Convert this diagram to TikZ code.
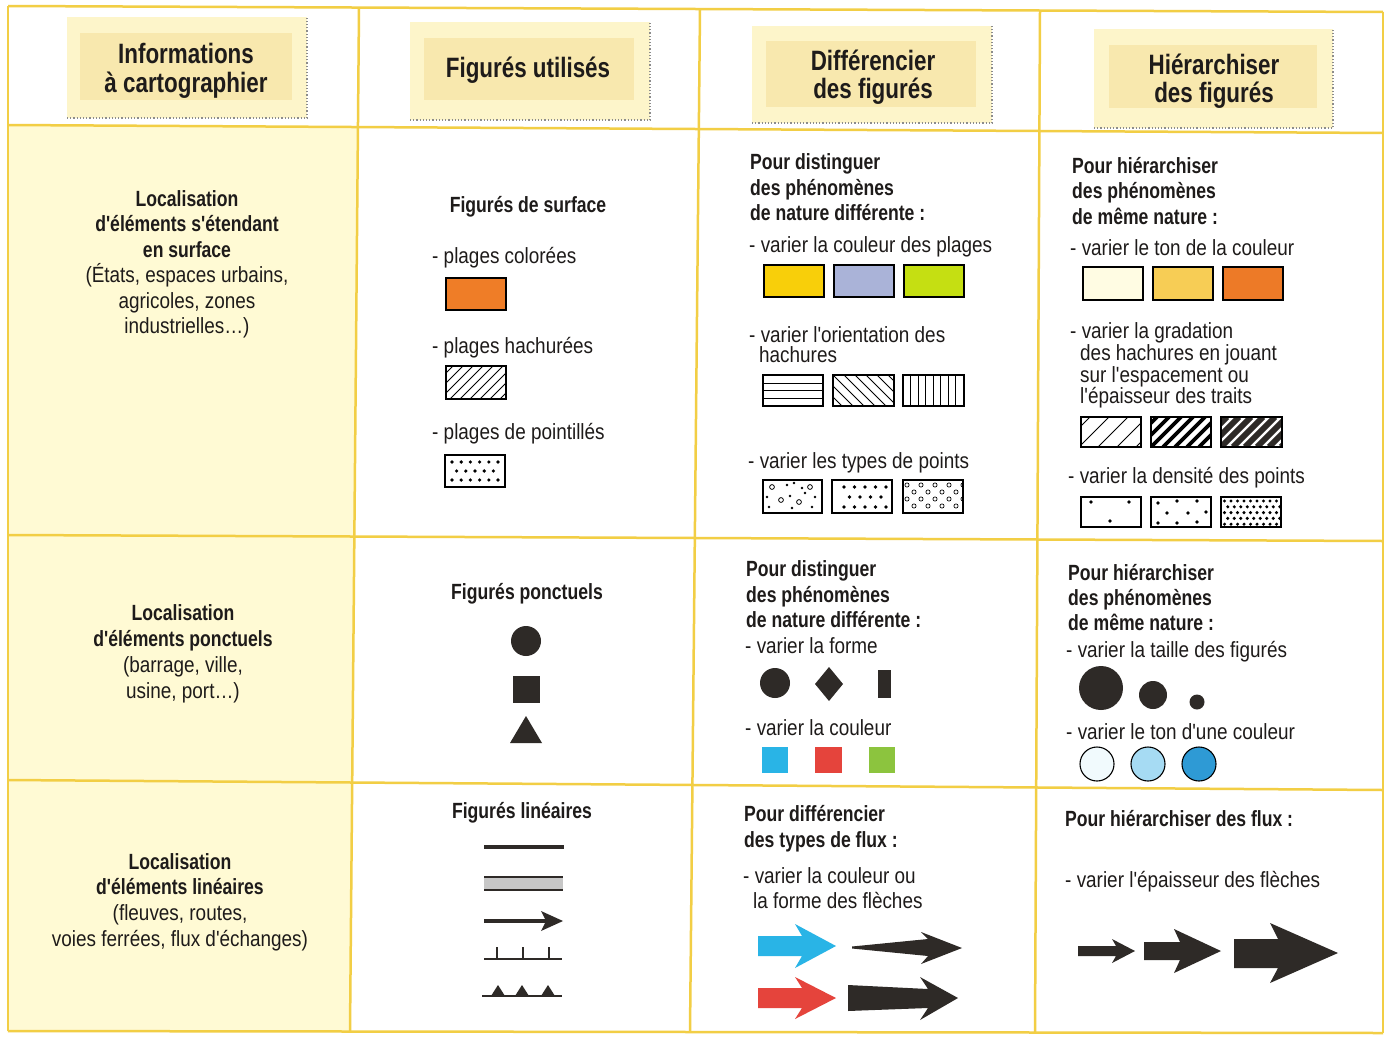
\documentclass[tikz,border=0pt]{standalone}
\usepackage{fontspec}
\setmainfont{Liberation Sans}[FakeStretch=0.86, Ligatures=TeXOff]
\newfontfamily\condb{Liberation Sans}[FakeStretch=0.8, Ligatures=TeXOff]
\definecolor{gridy}{HTML}{F2CE45}
\definecolor{colone}{HTML}{FFFAD4}
\definecolor{hdrout}{HTML}{FDF5CA}
\definecolor{hdrin}{HTML}{F8E8AE}
\definecolor{ink}{HTML}{1E1B1A}
\definecolor{dk}{HTML}{2E2A27}
\definecolor{orng}{HTML}{EF7D27}
\definecolor{yel}{HTML}{F8CF0A}
\definecolor{bgrey}{HTML}{AAB3D8}
\definecolor{lgreen}{HTML}{C5DF12}
\definecolor{pale}{HTML}{FFFCE3}
\definecolor{myel}{HTML}{F7CD55}
\definecolor{orng2}{HTML}{ED7A27}
\definecolor{cyn}{HTML}{29B4E6}
\definecolor{rd}{HTML}{E5443C}
\definecolor{grn}{HTML}{8CC43E}
\definecolor{cia}{HTML}{F1FAFD}
\definecolor{cib}{HTML}{A6DBF3}
\definecolor{cic}{HTML}{2E9AD5}
\tikzset{
  reg/.style={font=\fontsize{22}{26}\selectfont, text=ink, inner sep=0pt, anchor=base west},
  regc/.style={reg, anchor=base},
  bld/.style={font=\condb\bfseries\fontsize{22}{26}\selectfont, text=ink, inner sep=0pt, anchor=base west},
  bldc/.style={bld, anchor=base},
  hdr/.style={font=\condb\bfseries\fontsize{28}{30}\selectfont, text=ink, inner sep=0pt, anchor=base},
  gridline/.style={draw=gridy, line width=2.5pt},
  frame/.style={draw=black, line width=1.1pt},
  hshadow/.style={draw=black!45, dotted, line width=1.2pt},
}
\begin{document}
\begin{tikzpicture}[x=1pt,y=-1pt]
\useasboundingbox (0,0) rectangle (1386,1036);
\fill[white] (0,0) rectangle (1386,1036);
\fill[colone] (8,125) -- (358,127) -- (350,1031) -- (8,1031) -- cycle;

% header boxes
\fill[hdrout] (67,17) rectangle (307,118);
\fill[hdrin] (80,33) rectangle (292,100);
\draw[hshadow] (67,118) -- (307,118) -- (307,17);
\fill[hdrout] (410,22) rectangle (650,120);
\fill[hdrin] (424,38) rectangle (634,100);
\draw[hshadow] (410,120) -- (650,120) -- (650,22);
\fill[hdrout] (752,26) rectangle (992,123);
\fill[hdrin] (766,41) rectangle (976,107);
\draw[hshadow] (752,123) -- (992,123) -- (992,26);
\fill[hdrout] (1094,29) rectangle (1333,128);
\fill[hdrin] (1109,45) rectangle (1317,108);
\draw[hshadow] (1094,128) -- (1333,128) -- (1333,29);

% grid
\draw[gridline] (8,6) -- (1383,12);
\draw[gridline] (8,125) -- (1383,133);
\draw[gridline] (8,535) -- (1383,541);
\draw[gridline] (8,780) -- (1383,790);
\draw[gridline] (8,1031) -- (1383,1033);
\draw[gridline] (8,6) -- (8,1031);
\draw[gridline] (359,8) -- (350,1031);
\draw[gridline] (700,9) -- (690,1032);
\draw[gridline] (1040,10) -- (1035,1032);
\draw[gridline] (1383,12) -- (1383,1033);

% header texts
\node[hdr] (h1a) at (186,63) {Informations};
\node[hdr] (h1b) at (186,92) {à cartographier};
\node[hdr] (h2a) at (528,77) {Figurés utilisés};
\node[hdr] (h3a) at (873,70) {Différencier};
\node[hdr] (h3b) at (873,98) {des figurés};
\node[hdr] (h4a) at (1214,74) {Hiérarchiser};
\node[hdr] (h4b) at (1214,102) {des figurés};

% column 1
\node[bldc] (l1a) at (187,206) {Localisation};
\node[bldc] (l1b) at (187,231) {d'éléments s'étendant};
\node[bldc] (l1c) at (187,257) {en surface};
\node[regc] (l1d) at (187,282) {(États, espaces urbains,};
\node[regc] (l1e) at (187,308) {agricoles, zones};
\node[regc] (l1f) at (187,333) {industrielles…)};
\node[bldc] (l2a) at (183,620) {Localisation};
\node[bldc] (l2b) at (183,646) {d'éléments ponctuels};
\node[regc] (l2c) at (183,672) {(barrage, ville,};
\node[regc] (l2d) at (183,698) {usine, port…)};
\node[bldc] (l3a) at (180,869) {Localisation};
\node[bldc] (l3b) at (180,894) {d'éléments linéaires};
\node[regc] (l3c) at (180,920) {(fleuves, routes,};
\node[regc] (l3d) at (180,946) {voies ferrées, flux d'échanges)};

% column 2, row 1
\node[bldc] (f1) at (528,212) {Figurés de surface};
\node[reg] (f1a) at (432,263) {- plages colorées};
\fill[orng] (446,278) rectangle (506,310);
\draw[frame] (446,278) rectangle (506,310);
\node[reg] (f1b) at (432,353) {- plages hachurées};
\begin{scope}
  \clip (446,366) rectangle (506,399);
  \foreach \x in {400,410,...,510} \draw[line width=0.8pt] (\x,399) -- ({\x+33},366);
\end{scope}
\draw[frame] (446,366) rectangle (506,399);
\node[reg] (f1c) at (432,439) {- plages de pointillés};
\foreach \k in {0,...,5} {
  \fill ({452+9.2*\k},462) circle (1.8pt);
  \fill ({452+9.2*\k},480) circle (1.8pt);
}
\foreach \k in {0,...,4} \fill ({456.6+9.2*\k},471) circle (1.8pt);
\draw[frame] (445,455) rectangle (505,487);

% column 2, row 2
\node[bldc] (f2) at (527,599) {Figurés ponctuels};
\fill[dk] (526,641) circle (15pt);
\fill[dk] (512.5,675.5) rectangle (539.5,702.5);
\fill[dk] (526,716) -- (542,743) -- (510,743) -- cycle;

% column 2, row 3
\node[bldc] (f3) at (522,818) {Figurés linéaires};
\draw[dk, line width=4pt] (484,847) -- (564,847);
\fill[black!22] (484,877) rectangle (563,890);
\draw[dk, line width=2pt] (484,877) -- (563,877);
\draw[dk, line width=2pt] (484,890) -- (563,890);
\draw[dk, line width=4pt] (484,921) -- (547,921);
\fill[dk] (541,911) -- (563,921) -- (541,931) -- (546,921) -- cycle;
\draw[dk, line width=2pt] (484,959) -- (562,959);
\foreach \x in {497,523,549} \draw[dk, line width=1.6pt] (\x,959) -- (\x,947);
\draw[dk, line width=2pt] (482,996) -- (562,996);
\foreach \x in {498,522,548} \fill[dk] ({\x-7},996) -- (\x,985) -- ({\x+7},996) -- cycle;

% column 3, row 1
\node[bld] (d1a) at (750,169) {Pour distinguer};
\node[bld] (d1b) at (750,195) {des phénomènes};
\node[bld] (d1c) at (750,220) {de nature différente :};
\node[reg] (d1d) at (749,252) {- varier la couleur des plages};
\fill[yel] (764,265) rectangle (824,297);
\draw[frame] (764,265) rectangle (824,297);
\fill[bgrey] (834,265) rectangle (894,297);
\draw[frame] (834,265) rectangle (894,297);
\fill[lgreen] (904,265) rectangle (964,297);
\draw[frame] (904,265) rectangle (964,297);
\node[reg] (d1e) at (749,342) {- varier l'orientation des};
\node[reg] (d1f) at (759,362) {hachures};
\foreach \y in {383,390.5,398} \draw[line width=0.8pt] (763,\y) -- (823,\y);
\draw[frame] (763,375) rectangle (823,406);
\begin{scope}
  \clip (833,375) rectangle (894,406);
  \foreach \x in {800,811,...,900} \draw[line width=0.8pt] (\x,375) -- ({\x+31},406);
\end{scope}
\draw[frame] (833,375) rectangle (894,406);
\foreach \x in {910.5,918,...,958} \draw[line width=0.8pt] (\x,375) -- (\x,406);
\draw[frame] (903,375) rectangle (964,406);
\node[reg] (d1g) at (748,468) {- varier les types de points};
% random points
\foreach \p in {(772,487),(810,487),(781,500),(799,502)} \draw[line width=0.8pt] \p circle (2.4pt);
\foreach \p in {(787,485),(794,483),(802,488),(767,497),(790,496),(815,497),(769,507),(792,508),(812,507),(805,493)} \fill \p circle (1.4pt);
\draw[frame] (763,480) rectangle (822,513);
% regular points
\foreach \k in {0,...,4} {
  \fill ({844+10.5*\k},487) circle (1.8pt);
  \fill ({844+10.5*\k},507) circle (1.8pt);
}
\foreach \k in {0,...,3} \fill ({849.5+10.5*\k},497) circle (1.8pt);
\draw[frame] (832,480) rectangle (892,513);
% small circles
\begin{scope}
  \clip (903,480) rectangle (963,513);
  \foreach \k in {0,...,4} {
    \draw[line width=0.7pt] ({907+14*\k},485) circle (2.1pt);
    \draw[line width=0.7pt] ({907+14*\k},499) circle (2.1pt);
    \draw[line width=0.7pt] ({914+14*\k},492) circle (2.1pt);
    \draw[line width=0.7pt] ({914+14*\k},506) circle (2.1pt);
  }
\end{scope}
\draw[frame] (903,480) rectangle (963,513);

% column 3, row 2
\node[bld] (d2a) at (746,576) {Pour distinguer};
\node[bld] (d2b) at (746,602) {des phénomènes};
\node[bld] (d2c) at (746,627) {de nature différente :};
\node[reg] (d2d) at (745,653) {- varier la forme};
\fill[dk] (775,683) circle (15pt);
\fill[dk] (829,667) -- (843,684) -- (829,701) -- (815,684) -- cycle;
\fill[dk] (878,670) rectangle (891,698);
\node[reg] (d2e) at (745,735) {- varier la couleur};
\fill[cyn] (762,747) rectangle (788,773);
\fill[rd] (815,747) rectangle (842,773);
\fill[grn] (869,747) rectangle (895,773);

% column 3, row 3
\node[bld] (d3a) at (744,821) {Pour différencier};
\node[bld] (d3b) at (744,847) {des types de flux :};
\node[reg] (d3c) at (743,883) {- varier la couleur ou};
\node[reg] (d3d) at (753,908) {la forme des flèches};
\fill[cyn] (758,936) -- (802,936) -- (795,924) -- (836,946) -- (795,968) -- (802,956) -- (758,956) -- cycle;
\fill[dk] (852,946.5) -- (928,939) -- (921,932) -- (962,948) -- (921,964) -- (928,956) -- (852,948.5) -- cycle;
\fill[rd] (758,988) -- (802,988) -- (795,977) -- (836,998) -- (795,1019) -- (802,1008) -- (758,1008) -- cycle;
\fill[dk] (848,985) -- (928,989) -- (920,977) -- (958,998) -- (920,1020) -- (928,1008) -- (848,1011) -- cycle;

% column 4, row 1
\node[bld] (e1a) at (1072,173) {Pour hiérarchiser};
\node[bld] (e1b) at (1072,198) {des phénomènes};
\node[bld] (e1c) at (1072,224) {de même nature :};
\node[reg] (e1d) at (1070,255) {- varier le ton de la couleur};
\fill[pale] (1083,267) rectangle (1143,300);
\draw[frame] (1083,267) rectangle (1143,300);
\fill[myel] (1153,267) rectangle (1213,300);
\draw[frame] (1153,267) rectangle (1213,300);
\fill[orng2] (1223,267) rectangle (1283,300);
\draw[frame] (1223,267) rectangle (1283,300);
\node[reg] (e1e) at (1070,338) {- varier la gradation};
\node[reg] (e1f) at (1080,360) {des hachures en jouant};
\node[reg] (e1g) at (1080,382) {sur l'espacement ou};
\node[reg] (e1h) at (1080,403) {l'épaisseur des traits};
\begin{scope}
  \clip (1081,417) rectangle (1141,447);
  \foreach \x in {1060,1079,...,1150} \draw[line width=0.8pt] (\x,447) -- ({\x+30},417);
\end{scope}
\draw[frame] (1081,417) rectangle (1141,447);
\begin{scope}
  \clip (1151,417) rectangle (1211,447);
  \foreach \x in {1115,1127,...,1215} \draw[line width=3.6pt] (\x,447) -- ({\x+30},417);
\end{scope}
\draw[frame] (1151,417) rectangle (1211,447);
\begin{scope}
  \clip (1221,417) rectangle (1282,447);
  \foreach \x in {1185,1197,...,1285} \draw[dk, line width=5.8pt] (\x,447) -- ({\x+30},417);
\end{scope}
\draw[frame] (1221,417) rectangle (1282,447);
\node[reg] (e1i) at (1068,483) {- varier la densité des points};
\foreach \p in {(1091,502),(1129,502),(1110,521)} \fill \p circle (1.8pt);
\draw[frame] (1081,497) rectangle (1141,527);
\foreach \p in {(1158,503),(1177,501),(1197,501),(1167,513),(1188,513),(1206,512),(1158,523),(1177,523),(1197,522)} \fill \p circle (1.8pt);
\draw[frame] (1151,497) rectangle (1211,527);
\begin{scope}
  \clip (1221,497) rectangle (1281,527);
  \foreach \r in {0,...,4} \foreach \k in {0,...,9}
    \fill ({1224.5+6.5*\k+3.25*mod(\r,2)},{501+5.8*\r}) circle (1.7pt);
\end{scope}
\draw[frame] (1221,497) rectangle (1281,527);

% column 4, row 2
\node[bld] (e2a) at (1068,580) {Pour hiérarchiser};
\node[bld] (e2b) at (1068,605) {des phénomènes};
\node[bld] (e2c) at (1068,630) {de même nature :};
\node[reg] (e2d) at (1066,657) {- varier la taille des figurés};
\fill[dk] (1101,688) circle (22pt);
\fill[dk] (1153,695) circle (14pt);
\fill[dk] (1197,702) circle (7.5pt);
\node[reg] (e2e) at (1066,739) {- varier le ton d'une couleur};
\draw[fill=cia, line width=1.1pt] (1097,764) circle (17pt);
\draw[fill=cib, line width=1.1pt] (1148,764) circle (17pt);
\draw[fill=cic, line width=1.1pt] (1199,764) circle (17pt);

% column 4, row 3
\node[bld] (e3a) at (1065,826) {Pour hiérarchiser des flux :};
\node[reg] (e3b) at (1065,887) {- varier l'épaisseur des flèches};
\fill[dk] (1078,946) -- (1116,946) -- (1112,939) -- (1135,951) -- (1112,963) -- (1116,956) -- (1078,956) -- cycle;
\fill[dk] (1144,942) -- (1180,942) -- (1174,929) -- (1221,951) -- (1174,973) -- (1180,960) -- (1144,960) -- cycle;
\fill[dk] (1234,939) -- (1278,939) -- (1270,923) -- (1338,953) -- (1270,983) -- (1278,968) -- (1234,968) -- cycle;
\end{tikzpicture}
\end{document}
